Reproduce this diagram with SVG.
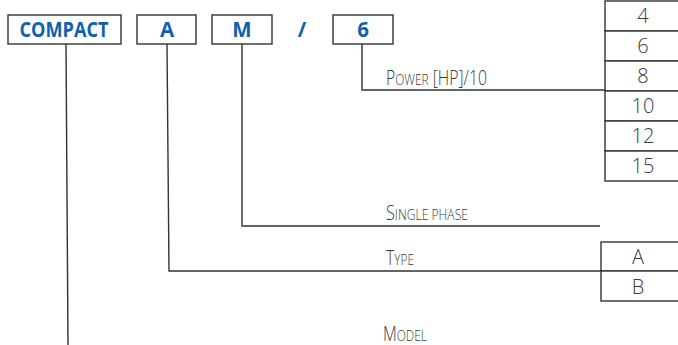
<svg xmlns="http://www.w3.org/2000/svg" width="678" height="345" viewBox="0 0 678 345">
<style>
.box{fill:#fff;stroke:#333;stroke-width:1.4}
.code{font-family:"Open Sans","Liberation Sans",sans-serif;font-weight:700;font-size:20.5px;fill:#1160ad;text-anchor:middle}
.cell{fill:#fff;stroke:#333;stroke-width:1.4}
.val{font-family:"Open Sans","Liberation Sans",sans-serif;font-weight:300;font-size:20px;fill:#3a3a3a;text-anchor:middle}
.lbl{font-family:"Open Sans","Liberation Sans",sans-serif;font-weight:300;fill:#3a3a3a;font-size:20px}
.sc{font-size:15px}
.conn{fill:none;stroke:#333;stroke-width:1.4}
</style>
<rect width="678" height="345" fill="#fff"/>
<g id="connectors">
<polyline class="conn" points="66,44 68,345"/>
<polyline class="conn" points="167,44 169,271 601,271"/>
<polyline class="conn" points="242,44 242,226 600,226"/>
<polyline class="conn" points="362,44 362,90 605,90"/>
</g>
<g id="node-compact">
<rect class="box" x="8" y="15" width="113" height="29"/>
<text class="code" x="64" y="37" textLength="89" lengthAdjust="spacingAndGlyphs">COMPACT</text>
</g>
<g id="node-a">
<rect class="box" x="137" y="15" width="59" height="29"/>
<text class="code" x="167" y="37">A</text>
</g>
<g id="node-m">
<rect class="box" x="212" y="15" width="60" height="29"/>
<text class="code" x="242" y="37">M</text>
</g>
<g id="node-slash">
<text class="code" x="302" y="37">/</text>
</g>
<g id="node-6">
<rect class="box" x="333" y="15" width="60" height="29"/>
<text class="code" x="363" y="37">6</text>
</g>
<g id="label-power">
<text class="lbl" x="386" y="85" textLength="101" lengthAdjust="spacingAndGlyphs">P<tspan class="sc">OWER</tspan> [HP]/10</text>
</g>
<g id="label-single">
<text class="lbl" x="386" y="220" textLength="82" lengthAdjust="spacingAndGlyphs">S<tspan class="sc">INGLE PHASE</tspan></text>
</g>
<g id="label-type">
<text class="lbl" x="386" y="265" textLength="28" lengthAdjust="spacingAndGlyphs">T<tspan class="sc">YPE</tspan></text>
</g>
<g id="label-model">
<text class="lbl" x="383" y="341" textLength="44" lengthAdjust="spacingAndGlyphs">M<tspan class="sc">ODEL</tspan></text>
</g>
<g id="table-power">
<rect class="cell" x="605" y="1" width="80" height="30"/>
<rect class="cell" x="605" y="31" width="80" height="30"/>
<rect class="cell" x="605" y="61" width="80" height="30"/>
<rect class="cell" x="605" y="91" width="80" height="30"/>
<rect class="cell" x="605" y="121" width="80" height="30"/>
<rect class="cell" x="605" y="151" width="80" height="30"/>
<text class="val" x="643" y="23">4</text>
<text class="val" x="643" y="53">6</text>
<text class="val" x="643" y="83">8</text>
<text class="val" x="643" y="113">10</text>
<text class="val" x="643" y="143">12</text>
<text class="val" x="643" y="173">15</text>
</g>
<g id="table-type">
<rect class="cell" x="601" y="242" width="84" height="29"/>
<rect class="cell" x="601" y="271" width="84" height="30"/>
<text class="val" x="638" y="264">A</text>
<text class="val" x="638" y="294">B</text>
</g>
</svg>
